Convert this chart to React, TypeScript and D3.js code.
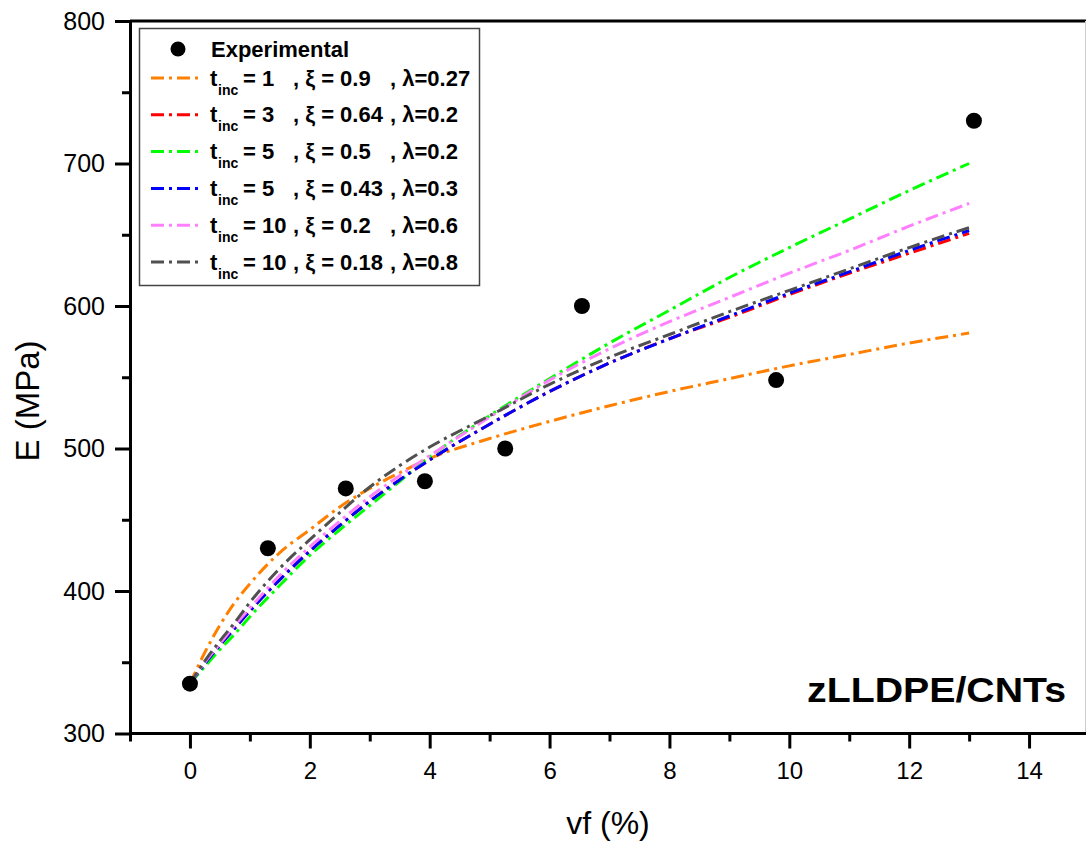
import React, { useEffect, useRef } from "react";
import * as d3 from "d3";

const width = 1086;
const height = 843;

// experimental points
const expVf = [0, 1.3, 2.6, 3.92, 5.26, 6.54, 9.78, 13.08];
const expE = [335, 430, 472, 477, 500, 600, 548, 730];

const modelVf = [0, 0.25, 0.5, 0.75, 1, 1.5, 2, 2.5, 3, 3.5, 4, 5, 6, 7, 8, 9, 10, 11, 12, 13];
const orangeE = [335, 357, 376, 392, 405, 427, 443, 459, 472, 483, 493, 507, 519, 530, 540, 549, 558, 566, 574, 581];
const redE = [335, 349, 362, 374, 386, 408, 428, 446, 463, 478, 492, 517, 540, 560, 577, 592, 608, 623, 637, 651];
const greenE = [335, 347, 359, 370, 382, 404, 425, 443, 460, 477, 494, 523, 549, 574, 597, 620, 641, 661, 681, 700];
const blueE = [335, 349, 362, 374, 386, 408, 428, 446, 463, 478, 492, 517, 540, 560, 577, 593, 609, 624, 639, 653];
const pinkE = [335, 350, 363, 376, 388, 411, 431, 449, 466, 481, 495, 522, 548, 570, 589, 606, 623, 639, 656, 672];
const grayE = [335, 351, 365, 378, 392, 416, 436, 455, 473, 488, 501, 523, 545, 564, 580, 596, 611, 626, 641, 655];

const seriesE = [orangeE, redE, greenE, blueE, pinkE, grayE];
const seriesColors = ["#ff8000", "#ff0000", "#00ff00", "#0000ff", "#ff80ff", "#505050"];
const tincLabels = ["1", "3", "5", "5", "10", "10"];
const xiLabels = ["0.9", "0.64", "0.5", "0.43", "0.2", "0.18"];
const lambdaLabels = ["0.27", "0.2", "0.2", "0.3", "0.6", "0.8"];

const xMajorTicks = [0, 2, 4, 6, 8, 10, 12, 14];
const xMinorTicks = [-1, 1, 3, 5, 7, 9, 11, 13];
const yMajorTicks = [300, 400, 500, 600, 700, 800];
const yMinorTicks = [350, 450, 550, 650, 750];

const FONT = "'Liberation Sans', Arial, Helvetica, sans-serif";

const App = () => {
  const svgRef = useRef(null);

  useEffect(() => {
    const svg = d3.select(svgRef.current);
    svg.selectAll("*").remove();

    const left = 130;
    const top = 21;
    const bottom = 733.5;

    const x = d3.scaleLinear().domain([-1, 15]).range([left, 1089]);
    const y = d3.scaleLinear().domain([300, 800]).range([bottom, top]);

    svg.append("rect").attr("width", width).attr("height", height).attr("fill", "#fff");

    // frame: top line and faint right edge
    svg.append("line")
      .attr("x1", left).attr("x2", width)
      .attr("y1", top).attr("y2", top)
      .attr("stroke", "#000").attr("stroke-width", 3);
    svg.append("line")
      .attr("x1", width - 0.5).attr("x2", width - 0.5)
      .attr("y1", top).attr("y2", bottom)
      .attr("stroke", "#ccc").attr("stroke-width", 1);

    // curves, in legend order so gray ends on top
    const line = d3.line()
      .x((d) => x(d[0]))
      .y((d) => y(d[1]))
      .curve(d3.curveMonotoneX);

    seriesE.forEach((vals, i) => {
      svg.append("path")
        .datum(modelVf.map((v, j) => [v, vals[j]]))
        .attr("fill", "none")
        .attr("stroke", seriesColors[i])
        .attr("stroke-width", 3)
        .attr("stroke-dasharray", "13,5,3,5")
        .attr("d", line);
    });

    // experimental points
    svg.selectAll(".exp")
      .data(expVf.map((v, i) => [v, expE[i]]))
      .enter()
      .append("circle")
      .attr("class", "exp")
      .attr("cx", (d) => x(d[0]))
      .attr("cy", (d) => y(d[1]))
      .attr("r", 8)
      .attr("fill", "#000");

    // x axis
    const xAxis = svg.append("g")
      .attr("transform", `translate(0, ${bottom})`)
      .call(d3.axisBottom(x).tickValues(xMajorTicks).tickSize(15).tickSizeOuter(0).tickPadding(13));
    svg.append("g")
      .attr("transform", `translate(0, ${bottom})`)
      .call(d3.axisBottom(x).tickValues(xMinorTicks).tickSize(8).tickSizeOuter(0).tickFormat(() => ""))
      .call((g) => g.select(".domain").remove())
      .selectAll("line").attr("stroke-width", 3);
    xAxis.select(".domain").attr("stroke-width", 3).attr("d", `M${left},0H${width}`);
    xAxis.selectAll("line").attr("stroke-width", 3);
    xAxis.selectAll("text").style("font-family", FONT).style("font-size", "24px").attr("fill", "#000");

    // y axis
    const yAxis = svg.append("g")
      .attr("transform", `translate(${left}, 0)`)
      .call(d3.axisLeft(y).tickValues(yMajorTicks).tickSize(15).tickSizeOuter(0).tickPadding(10));
    svg.append("g")
      .attr("transform", `translate(${left}, 0)`)
      .call(d3.axisLeft(y).tickValues(yMinorTicks).tickSize(8).tickFormat(() => ""))
      .call((g) => g.select(".domain").remove())
      .selectAll("line").attr("stroke-width", 3);
    yAxis.select(".domain").attr("stroke-width", 3).attr("stroke-linecap", "square");
    yAxis.selectAll("line").attr("stroke-width", 3);
    yAxis.selectAll("text").style("font-family", FONT).style("font-size", "25px").attr("fill", "#000");

    // axis titles
    svg.append("text")
      .attr("x", 608)
      .attr("y", 834)
      .attr("text-anchor", "middle")
      .style("font-family", FONT)
      .style("font-size", "32px")
      .text("vf (%)");
    svg.append("text")
      .attr("transform", "rotate(-90)")
      .attr("x", -401)
      .attr("y", 39)
      .attr("text-anchor", "middle")
      .style("font-family", FONT)
      .style("font-size", "33px")
      .text("E (MPa)");

    // sample label
    svg.append("text")
      .attr("x", 1066)
      .attr("y", 702)
      .attr("text-anchor", "end")
      .attr("textLength", 259)
      .attr("lengthAdjust", "spacingAndGlyphs")
      .style("font-family", FONT)
      .style("font-size", "35px")
      .style("font-weight", "bold")
      .text("zLLDPE/CNTs");

    // legend
    const lg = svg.append("g").style("font-family", FONT).style("font-weight", "bold");
    lg.append("rect")
      .attr("x", 139.5).attr("y", 28.5)
      .attr("width", 340).attr("height", 257)
      .attr("fill", "#fff")
      .attr("stroke", "#444")
      .attr("stroke-width", 1.5);

    lg.append("circle").attr("cx", 178).attr("cy", 49).attr("r", 7.5).attr("fill", "#000");
    lg.append("text").attr("x", 211).attr("y", 57).style("font-size", "22px").text("Experimental");

    const rowY = d3.scaleLinear().domain([0, 5]).range([78, 262]);
    seriesColors.forEach((c, i) => {
      const ry = rowY(i);
      lg.append("line")
        .attr("x1", 151).attr("x2", 201)
        .attr("y1", ry).attr("y2", ry)
        .attr("stroke", c)
        .attr("stroke-width", 3)
        .attr("stroke-dasharray", "13,5,3,5");
      const t = lg.append("text").attr("y", ry + 7.5).style("font-size", "22px");
      t.append("tspan").attr("x", 210).text("t");
      t.append("tspan").attr("x", 218).attr("dy", 9).style("font-size", "14px").text("inc");
      t.append("tspan").attr("x", 243).attr("dy", -9).text(`= ${tincLabels[i]}`);
      t.append("tspan").attr("x", 293).text(`, \u03be = ${xiLabels[i]}`);
      t.append("tspan").attr("x", 390).text(`, \u03bb=${lambdaLabels[i]}`);
    });
  }, []);

  return (
    <svg
      ref={svgRef}
      width={width}
      height={height}
      style={{ position: "absolute", left: 0, top: 0, display: "block" }}
    />
  );
};

export default App;
